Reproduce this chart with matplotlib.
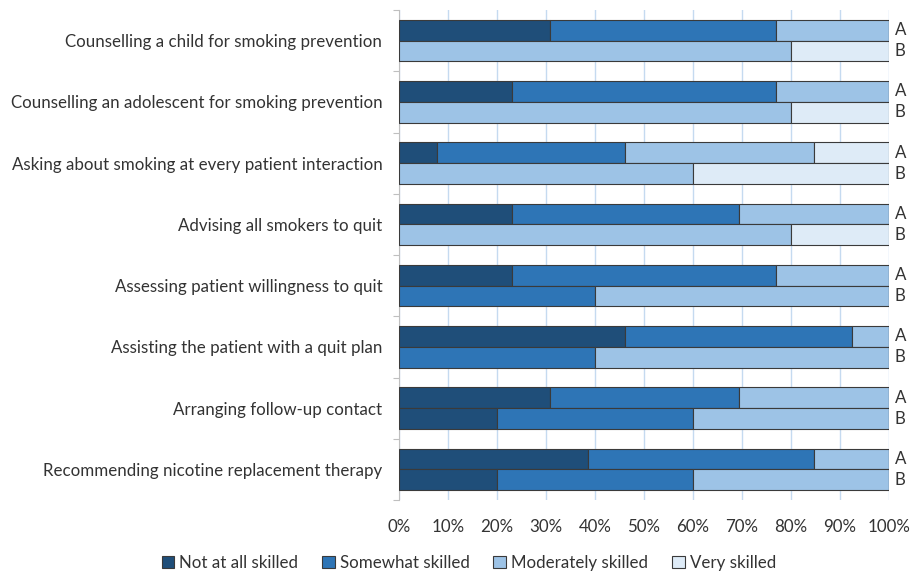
import matplotlib
matplotlib.use("Agg")
import matplotlib.pyplot as plt
from matplotlib.patches import Patch
import numpy as np

plt.rcParams['font.family'] = ['Lato', 'DejaVu Sans']

categories = [
    "Counselling a child for smoking prevention",
    "Counselling an adolescent for smoking prevention",
    "Asking about smoking at every patient interaction",
    "Advising all smokers to quit",
    "Assessing patient willingness to quit",
    "Assisting the patient with a quit plan",
    "Arranging follow-up contact",
    "Recommending nicotine replacement therapy",
]
levels = ["Not at all skilled", "Somewhat skilled", "Moderately skilled", "Very skilled"]
colors = ["#1F4E79", "#2E75B6", "#9DC3E6", "#DEEBF7"]

# Group A (percent)
A_not = [30.8, 23.1, 7.7, 23.1, 23.1, 46.2, 30.8, 38.5]
A_some = [46.2, 53.8, 38.5, 46.2, 53.8, 46.2, 38.5, 46.2]
A_mod = [23.1, 23.1, 38.5, 30.8, 23.1, 7.7, 30.8, 15.4]
A_very = [0, 0, 15.4, 0, 0, 0, 0, 0]
# Group B (percent)
B_not = [0, 0, 0, 0, 0, 0, 20, 20]
B_some = [0, 0, 0, 0, 40, 40, 40, 40]
B_mod = [80, 80, 60, 80, 60, 60, 40, 40]
B_very = [20, 20, 40, 20, 0, 0, 0, 0]

FS = 12.2

fig = plt.figure(figsize=(9.12, 5.73), dpi=100)
ax = fig.add_axes([399/912, 1-500/573, 490/912, 490/573])

n = len(categories)
y = np.arange(n)
h = 0.34
A = [A_not, A_some, A_mod, A_very]
B = [B_not, B_some, B_mod, B_very]
for grp, off in ((A, -h/2), (B, h/2)):
    left = np.zeros(n)
    for vals, c in zip(grp, colors):
        v = np.array(vals, dtype=float)
        ax.barh(y + off, v, height=h, left=left, color=c, edgecolor="#3a3a3a",
                linewidth=0.8, zorder=3)
        left += v

ax.set_xlim(0, 100)
ax.set_ylim(n - 0.5, -0.5)
ax.set_xticks(np.arange(0, 101, 10))
ax.set_xticklabels([f"{v}%" for v in range(0, 101, 10)], fontsize=FS, color="#333333")
ax.tick_params(axis='x', length=0, pad=14)
ax.grid(axis='x', color="#C5DAF0", linewidth=1.0, zorder=0)

ax.set_yticks(np.arange(-0.5, n + 0.5, 1))
ax.set_yticklabels([])
ax.tick_params(axis='y', length=4, color="#BFBFBF")
ax.set_yticks(y, minor=True)
ax.set_yticklabels(categories, minor=True, fontsize=FS, color="#333333")
ax.tick_params(axis='y', which='minor', length=0, pad=12)

for s in ("top", "right", "bottom"):
    ax.spines[s].set_visible(False)
ax.spines["left"].set_color("#BFBFBF")

for i in range(n):
    ax.text(1.012, i - h/2, "A", transform=ax.get_yaxis_transform(), va="center",
            ha="left", fontsize=FS, color="#333333")
    ax.text(1.012, i + h/2, "B", transform=ax.get_yaxis_transform(), va="center",
            ha="left", fontsize=FS, color="#333333")

handles = [Patch(facecolor=c, edgecolor="#3a3a3a", linewidth=0.8) for c in colors]
fig.legend(handles, levels, loc="center", bbox_to_anchor=(0.514, 1-563/573), ncol=4,
           frameon=False, fontsize=FS, handlelength=0.75, handleheight=0.75,
           handletextpad=0.3, columnspacing=1.4, labelcolor="#333333")

fig.savefig("out.png", dpi=100)
